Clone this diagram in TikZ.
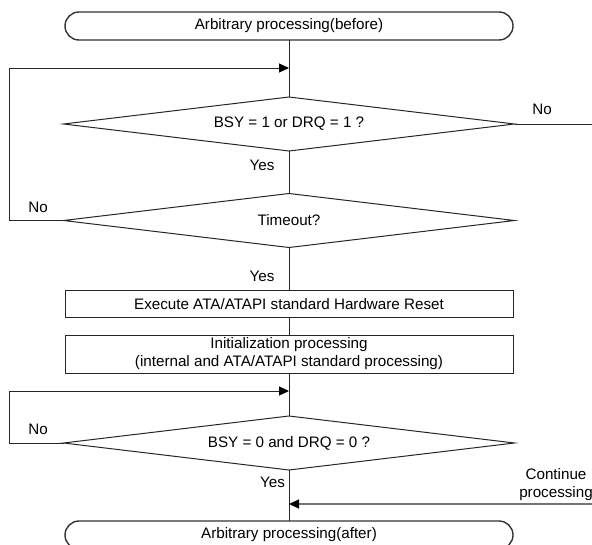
\documentclass[tikz,border=0pt]{standalone}
\usepackage{fontspec}
\setmainfont{Liberation Sans}
\usetikzlibrary{shapes.geometric,arrows.meta}
\begin{document}
\begin{tikzpicture}[x=1pt,y=-1pt,
  every node/.style={font=\fontsize{15.2}{18}\selectfont, inner sep=0pt, outer sep=0pt},
  term/.style={draw=black!80, line width=1.4pt, rounded corners=14pt, minimum width=448pt, minimum height=28pt},
  proc/.style={draw=black!85, line width=1pt, minimum width=448pt},
  decision/.style={draw=black!85, line width=1pt, diamond, aspect=8.2, minimum width=451pt, minimum height=54pt},
  flow/.style={draw=black!85, line width=1pt},
  arr/.style={-{Triangle[length=10pt,width=9pt,color=black]}},
  contline/.style={draw=black!55, line width=1.4pt}]
\useasboundingbox (0,0) rectangle (592,544);
% main nodes
\node[term] (t1) at (289,26) {Arbitrary processing(before)};
\coordinate (j1) at (289,68);
\node[decision] (d1) at (289,124) {BSY = 1 or DRQ = 1 ?};
\node[decision] (d2) at (289,220.5) {Timeout?};
\node[proc, minimum height=27.5pt] (b1) at (289,304) {Execute ATA/ATAPI standard Hardware Reset};
\node[proc, minimum height=38pt, align=center] (b2) at (289,354) {Initialization processing\\(internal and ATA/ATAPI standard processing)};
\coordinate (j2) at (289,391);
\node[decision] (d3) at (289,443) {BSY = 0 and DRQ = 0 ?};
\coordinate (j3) at (289,504);
\node[term] (t2) at (289,535) {Arbitrary processing(after)};
% helper coordinates
\coordinate (L) at (9.5,0);
\coordinate (R) at (592,0);
\coordinate (c0) at (592,504);
% main flow
\draw[flow] (t1.south) -- (d1.north);
\draw[flow] (d1.south) -- (d2.north);
\draw[flow] (d2.south) -- (b1.north);
\draw[flow] (b1.south) -- (b2.north);
\draw[flow] (b2.south) -- (d3.north);
\draw[flow] (d3.south) -- (t2.north);
% loops
\draw[flow,arr] (d2.west) -- (d2.west -| L) |- (j1);
\draw[flow,arr] (d3.west) -- (d3.west -| L) |- (j2);
% exits
\draw[flow] (d1.east) -- (d1.east -| R);
\draw[contline,arr] (c0) -- (j3);
% labels
\node (no1) at (542,109) {No};
\node (yes1) at (262,165) {Yes};
\node (no2) at (38,207) {No};
\node (yes2) at (262,276) {Yes};
\node (no3) at (38,429) {No};
\node[anchor=east] (yes3) at (285,482) {Yes};
\node[align=center] (cont) at (556,484.5) {Continue\\processing};
\end{tikzpicture}
\end{document}
